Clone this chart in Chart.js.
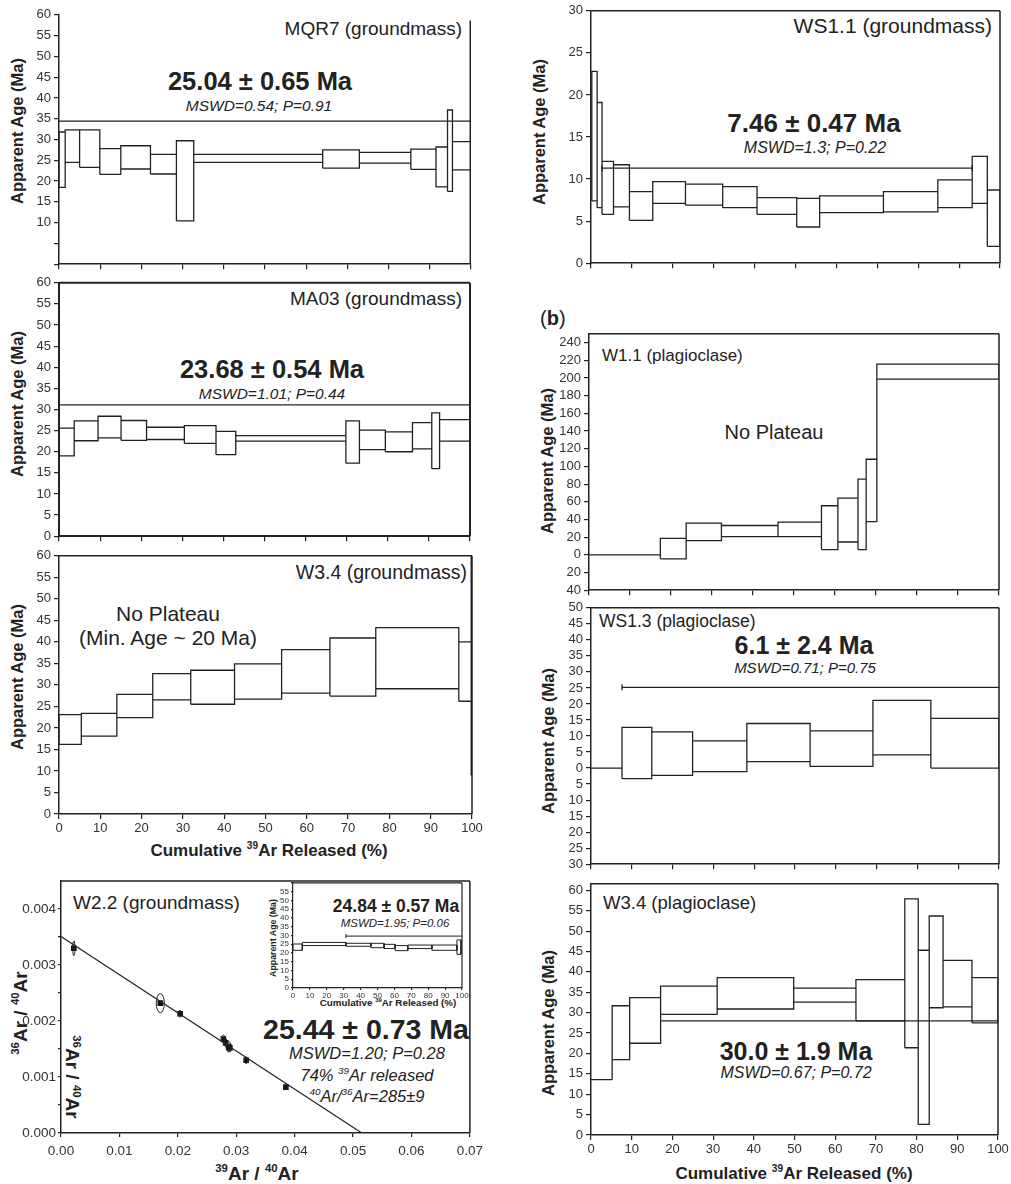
<!DOCTYPE html>
<html><head><meta charset="utf-8">
<script src="https://cdn.jsdelivr.net/npm/chart.js@4.4.0/dist/chart.umd.min.js"></script>
<style>
html,body{margin:0;padding:0;background:#fff;}
body{width:1011px;height:1184px;position:relative;overflow:hidden;font-family:"Liberation Sans",Arial,sans-serif;color:#222;}
canvas{position:absolute;}
.t{position:absolute;white-space:nowrap;line-height:1;}
.c{transform:translate(-50%,-50%);}
.l{transform:translate(0,-50%);}
.r{transform:translate(-100%,-50%);}
.rot{transform:translate(-50%,-50%) rotate(-90deg);}
.rot2{transform:translate(-50%,-50%) rotate(90deg);}
.b{font-weight:bold;}
.i{font-style:italic;}
.yt{font-size:16.5px;}
sup{font-size:0.6em;vertical-align:0.65em;line-height:0;}
</style></head><body>
<!-- left column -->
<div class="t rot b yt" style="left:17px;top:131px">Apparent Age (Ma)</div>
<div class="t rot b yt" style="left:17px;top:404px">Apparent Age (Ma)</div>
<div class="t rot b yt" style="left:17px;top:677px">Apparent Age (Ma)</div>
<div class="t r" style="left:462px;top:28px;font-size:19px">MQR7 (groundmass)</div>
<div class="t c b" style="left:260px;top:82px;font-size:25.5px">25.04 ± 0.65 Ma</div>
<div class="t c i" style="left:259px;top:106px;font-size:15.5px">MSWD=0.54; P=0.91</div>
<div class="t r" style="left:462px;top:298px;font-size:19px">MA03 (groundmass)</div>
<div class="t c b" style="left:272px;top:370px;font-size:25.5px">23.68 ± 0.54 Ma</div>
<div class="t c i" style="left:272px;top:394px;font-size:15.5px">MSWD=1.01; P=0.44</div>
<div class="t r" style="left:467px;top:573px;font-size:19.5px">W3.4 (groundmass)</div>
<div class="t c" style="left:168px;top:613px;font-size:21px">No Plateau</div>
<div class="t c" style="left:168px;top:637px;font-size:21px">(Min. Age ~ 20 Ma)</div>
<div class="t c b" style="left:269px;top:850px;font-size:17px">Cumulative <sup>39</sup>Ar Released (%)</div>
<div class="t l" style="left:73px;top:902px;font-size:19px">W2.2 (groundmass)</div>
<div class="t c b" style="left:366px;top:1029px;font-size:28.5px">25.44 ± 0.73 Ma</div>
<div class="t c i" style="left:367px;top:1053px;font-size:16.5px">MSWD=1.20; P=0.28</div>
<div class="t c i" style="left:367px;top:1075px;font-size:16.5px">74% <sup>39</sup>Ar released</div>
<div class="t c i" style="left:367px;top:1096px;font-size:16.5px"><sup>40</sup>Ar/<sup>36</sup>Ar=285±9</div>
<div class="t rot b" style="left:20px;top:1013px;font-size:19px"><sup>36</sup>Ar / <sup>40</sup>Ar</div>
<div class="t rot2 b" style="left:72px;top:1077px;font-size:19px"><sup>36</sup>Ar / <sup>40</sup>Ar</div>
<div class="t c b" style="left:257px;top:1173px;font-size:19px"><sup>39</sup>Ar / <sup>40</sup>Ar</div>
<div class="t c b" style="left:396px;top:907px;font-size:17.5px">24.84 ± 0.57 Ma</div>
<div class="t c i" style="left:395px;top:924px;font-size:11.5px">MSWD=1.95; P=0.06</div>
<div class="t rot b" style="left:273px;top:938px;font-size:8.8px">Apparent Age (Ma)</div>
<div class="t c b" style="left:388px;top:1003px;font-size:9.8px">Cumulative <sup>39</sup>Ar Released (%)</div>
<!-- right column -->
<div class="t rot b yt" style="left:539px;top:132px">Apparent Age (Ma)</div>
<div class="t r" style="left:992px;top:25px;font-size:21px">WS1.1 (groundmass)</div>
<div class="t c b" style="left:814px;top:123px;font-size:26px">7.46 ± 0.47 Ma</div>
<div class="t c i" style="left:815px;top:148px;font-size:16px">MSWD=1.3; P=0.22</div>
<div class="t l" style="left:540px;top:318px;font-size:20px">(<b>b</b>)</div>
<div class="t rot b yt" style="left:547px;top:461px">Apparent Age (Ma)</div>
<div class="t l" style="left:602px;top:355px;font-size:17px">W1.1 (plagioclase)</div>
<div class="t c" style="left:774px;top:432px;font-size:20px">No Plateau</div>
<div class="t rot b yt" style="left:548px;top:741px">Apparent Age (Ma)</div>
<div class="t l" style="left:599px;top:622px;font-size:17.5px">WS1.3 (plagioclase)</div>
<div class="t c b" style="left:804px;top:645px;font-size:25px">6.1 ± 2.4 Ma</div>
<div class="t c i" style="left:805px;top:667px;font-size:15px">MSWD=0.71; P=0.75</div>
<div class="t rot b yt" style="left:548px;top:1023px">Apparent Age (Ma)</div>
<div class="t l" style="left:603px;top:903px;font-size:18.5px">W3.4 (plagioclase)</div>
<div class="t c b" style="left:796px;top:1051px;font-size:25px">30.0 ± 1.9 Ma</div>
<div class="t c i" style="left:796px;top:1073px;font-size:16px">MSWD=0.67; P=0.72</div>
<div class="t c b" style="left:794px;top:1173px;font-size:17px">Cumulative <sup>39</sup>Ar Released (%)</div>

<script>
// ---------------- DATA ----------------
// tick labels
const CUM_TICKS = [0,10,20,30,40,50,60,70,80,90,100];
const AGE_TICKS_60 = [0,5,10,15,20,25,30,35,40,45,50,55,60];
const AGE_TICKS_30 = [0,5,10,15,20,25,30];
const AGE_TICKS_W11 = [-40,-20,0,20,40,60,80,100,120,140,160,180,200,220,240];
const AGE_TICKS_WS13 = [-30,-25,-20,-15,-10,-5,0,5,10,15,20,25,30,35,40,45,50];
const ISO_X_TICKS = [0,0.01,0.02,0.03,0.04,0.05,0.06,0.07];
const ISO_Y_TICKS = [0,0.0005,0.001,0.0015,0.002,0.0025,0.003,0.0035,0.004];

// MQR7 (groundmass): step boundaries (cum. %), upper / lower 2-sigma age (Ma)
const MQR7_STEPS = [0,1.5,5.0,9.9,15.0,22.2,28.5,32.7,64.0,72.9,85.4,91.5,94.3,95.5,99.8,100];
const MQR7_HIGH  = [31.8,32.3,32.3,27.8,28.5,26.4,29.7,26.4,27.5,26.9,27.7,28.2,37.1,29.5,58.5];
const MQR7_LOW   = [18.5,24.5,23.3,21.6,22.9,21.7,10.4,24.5,23.1,24.3,22.8,18.6,17.5,22.7,0];
const MQR7_PLATEAU = [0,100,34.4];

// MA03 (groundmass)
const MA03_STEPS = [0,3.7,9.5,15.1,21.3,30.5,38.2,43.0,69.8,73.1,79.4,86.0,90.7,92.6,100];
const MA03_HIGH  = [25.6,27.3,28.4,27.4,25.8,26.2,24.8,23.8,27.3,25.1,24.7,26.9,29.2,27.6];
const MA03_LOW   = [19.0,22.6,23.3,22.7,22.9,22.0,19.3,22.5,17.3,20.5,20.0,20.7,16.0,22.5];
const MA03_PLATEAU = [0,100,31.1];

// W3.4 (groundmass)
const W34G_STEPS = [0,5.4,14.0,22.7,31.9,42.5,53.9,65.6,76.7,96.8,99.8,100];
const W34G_HIGH  = [23.1,23.4,27.8,32.6,33.4,34.9,38.2,40.9,43.3,40.0,60];
const W34G_LOW   = [16.2,18.1,22.4,26.5,25.5,26.7,28.1,27.4,29.1,26.2,9.0];

// W2.2 (groundmass) isochron
const ISO_X  = [0.0022,0.0170,0.0204,0.0278,0.0282,0.0287,0.0289,0.0317,0.0385];
const ISO_Y  = [0.00330,0.00232,0.00213,0.00168,0.00161,0.00154,0.00152,0.00130,0.00082];
const ISO_SX = [0.0002,0.0007,0.0003,0.0003,0.0003,0.0004,0.0003,0.0003,0.0003];
const ISO_SY = [0.00013,0.00017,0.00006,0.00007,0.00007,0.00009,0.00007,0.00006,0.00004];
const ISO_Y_INTERCEPT = 0.00351;
const ISO_X_INTERCEPT = 0.0515;

// W2.2 inset spectrum
const W22_STEPS = [0,5.5,31.3,46.1,53.9,60.4,67.9,82.2,97.0,99.4];
const W22_HIGH  = [25.1,26.0,25.5,25.5,24.9,24.2,24.5,24.5,27.4];
const W22_LOW   = [21.5,24.2,23.8,23.0,22.5,21.3,22.5,21.5,19.2];
const W22_PLATEAU = [31.3,100,29.6];

// WS1.1 (groundmass)
const WS11_STEPS = [0.2,1.5,2.7,5.5,9.4,15.1,23.1,32.2,40.6,50.3,55.9,71.5,84.8,93.2,96.9,100];
const WS11_HIGH  = [22.8,19.1,12.1,11.7,8.5,9.7,9.4,9.1,7.8,7.7,8.0,8.5,9.9,12.7,8.7];
const WS11_LOW   = [7.4,6.6,5.8,6.7,5.1,7.1,6.9,6.6,5.8,4.3,6.0,6.1,6.6,7.1,2.0];
const WS11_PLATEAU = [2.7,93.2,11.3];

// W1.1 (plagioclase)
const W11_STEPS = [0,17.4,23.7,32.3,46.1,56.7,60.7,65.6,67.6,70.2,100];
const W11_HIGH  = [0,18.6,35.8,33.2,36.9,55.5,64.1,85.7,108.1,215.8];
const W11_LOW   = [0,-4.5,16.0,20.5,20.5,6.0,14.5,6.0,37.6,198.7];

// WS1.3 (plagioclase)
const WS13_STEPS = [0,7.6,14.9,24.9,38.2,53.7,69.1,83.3,100];
const WS13_HIGH  = [0,12.7,11.3,8.5,13.9,11.6,21.1,15.5];
const WS13_LOW   = [0,-3.3,-2.3,-1.1,2.0,0.5,4.1,0];
const WS13_PLATEAU = [7.6,100,25.2];

// W3.4 (plagioclase)
const W34P_STEPS = [0,5.2,9.5,17.1,31.0,49.8,65.1,77.1,80.4,83.1,86.5,93.6,100];
const W34P_HIGH  = [13.6,31.7,33.7,36.5,38.6,36.0,38.1,57.9,45.3,53.7,42.8,38.6];
const W34P_LOW   = [13.6,18.5,22.5,29.6,30.9,32.6,28.0,21.4,2.6,31.2,31.4,27.5];
const W34P_PLATEAU = [17.1,100,28.0];

// ---------------- DRAWING ----------------
const FONT = "'Liberation Sans', Arial, sans-serif";
const INK = '#222';
const LBL = '#333';

const framePlugin = {
  id: 'frame',
  afterDraw(chart, args, o) {
    if (!o || !o.sides) return;
    const {ctx, chartArea: a} = chart;
    ctx.save();
    ctx.strokeStyle = o.color || INK;
    ctx.lineWidth = o.width || 1.5;
    ctx.beginPath();
    if (o.sides.includes('t')) { ctx.moveTo(a.left, a.top); ctx.lineTo(a.right, a.top); }
    if (o.sides.includes('r')) { ctx.moveTo(a.right, a.top); ctx.lineTo(a.right, a.bottom); }
    ctx.stroke();
    ctx.restore();
  }
};
const ellipsePlugin = {
  id: 'errEllipse',
  afterDatasetsDraw(chart, args, o) {
    if (!o || !o.sx) return;
    const {ctx} = chart;
    const xs = chart.scales.x, ys = chart.scales.y;
    const ds = chart.data.datasets[o.datasetIndex].data;
    ctx.save();
    ctx.strokeStyle = INK; ctx.lineWidth = 1;
    ds.forEach((p, i) => {
      const px = xs.getPixelForValue(p.x), py = ys.getPixelForValue(p.y);
      const rx = Math.abs(xs.getPixelForValue(p.x + o.sx[i]) - px);
      const ry = Math.abs(ys.getPixelForValue(p.y + o.sy[i]) - py);
      ctx.beginPath(); ctx.ellipse(px, py, rx, ry, 0, 0, Math.PI * 2); ctx.stroke();
    });
    ctx.restore();
  }
};
Chart.register(framePlugin, ellipsePlugin);

function place(plot, yw, xh, pt, pr) {
  const L = plot.l - yw, T = plot.t - pt, W = plot.r + pr - L, H = plot.b + xh - T;
  const c = document.createElement('canvas');
  c.width = W; c.height = H;
  c.style.left = L + 'px'; c.style.top = T + 'px';
  c.style.width = W + 'px'; c.style.height = H + 'px';
  document.body.appendChild(c);
  return c;
}
const ticksAt = arr => s => { s.ticks = arr.map(v => ({value: v})); };

function boxData(steps, hi, lo) {
  const pts = [];
  for (let i = 0; i < hi.length; i++) {
    const x0 = steps[i], x1 = steps[i + 1];
    pts.push({x: x0, y: lo[i]}, {x: x0, y: hi[i]}, {x: x1, y: hi[i]}, {x: x1, y: lo[i]}, {x: x0, y: lo[i]}, {x: x1, y: null});
  }
  return pts;
}
function connectorData(steps, hi, lo) {
  const pts = [];
  for (let i = 0; i < hi.length - 1; i++) {
    const top = Math.min(hi[i], hi[i + 1]), bot = Math.max(lo[i], lo[i + 1]);
    if (bot > top) pts.push({x: steps[i + 1], y: top}, {x: steps[i + 1], y: bot}, {x: steps[i + 1], y: null});
  }
  return pts;
}

function spectrum(plot, cfg) {
  const yw = cfg.yw || 45, xh = cfg.xh || 8, fs = cfg.fs || 13;
  const canvas = place(plot, yw, xh, cfg.pt || 10, 14);
  const lw = cfg.lw || 1.3;
  const line = {showLine: true, pointRadius: 0, fill: false, spanGaps: false, tension: 0,
    borderColor: INK, borderWidth: lw, borderJoinStyle: 'miter'};
  const datasets = [
    Object.assign({data: boxData(cfg.steps, cfg.hi, cfg.lo)}, line),
    Object.assign({data: connectorData(cfg.steps, cfg.hi, cfg.lo)}, line)
  ];
  if (cfg.plateau) {
    const p = cfg.plateau;
    datasets.push(Object.assign({}, line, {
      data: [{x: p[0], y: p[2]}, {x: p[1], y: p[2]}],
      pointStyle: 'line', pointRotation: 90, pointRadius: cfg.caps || [0, 0],
      pointBorderColor: INK, pointBorderWidth: lw
    }));
  }
  const tickFont = {family: FONT, size: fs};
  const tl = cfg.tl || 5;
  new Chart(canvas, {
    type: 'scatter',
    data: {datasets},
    options: {
      responsive: false, animation: false, devicePixelRatio: 1, events: [],
      layout: {padding: {top: cfg.pt || 10, right: 14, left: 0, bottom: 0}},
      plugins: {legend: {display: false}, tooltip: {enabled: false},
        frame: {sides: cfg.frame || '', width: cfg.frameW || 1.5}},
      scales: {
        x: {type: 'linear', min: 0, max: 100, afterBuildTicks: ticksAt(CUM_TICKS),
          afterFit: s => { s.height = xh; },
          ticks: {display: !!cfg.xLabels, font: tickFont, color: LBL, padding: cfg.xpad || 2, maxRotation: 0, autoSkip: false},
          grid: {drawOnChartArea: false, tickLength: tl, color: INK, lineWidth: 1.2},
          border: {display: true, color: INK, width: cfg.frameW || 1.5}},
        y: {type: 'linear', min: cfg.yMin, max: cfg.yMax, afterBuildTicks: ticksAt(cfg.yTicks),
          afterFit: s => { s.width = yw; },
          ticks: {font: tickFont, color: LBL, padding: cfg.ypad || 3, autoSkip: false,
            callback: cfg.yLabel || (v => v)},
          grid: {drawOnChartArea: false, tickLength: tl, color: INK, lineWidth: 1.2},
          border: {display: true, color: INK, width: cfg.frameW || 1.5}}
      }
    }
  });
}

// Left column
spectrum({l: 59, t: 14, r: 471, b: 267}, {steps: MQR7_STEPS, hi: MQR7_HIGH, lo: MQR7_LOW,
  plateau: MQR7_PLATEAU, caps: [0, 3], yMin: 0, yMax: 60, yTicks: AGE_TICKS_60,
  yLabel: v => (v < 10 ? '' : v)});
spectrum({l: 59, t: 282, r: 470, b: 539}, {steps: MA03_STEPS, hi: MA03_HIGH, lo: MA03_LOW,
  plateau: MA03_PLATEAU, yMin: 0, yMax: 60, yTicks: AGE_TICKS_60, frame: 'tr', frameW: 2});
spectrum({l: 59, t: 555, r: 472, b: 814}, {steps: W34G_STEPS, hi: W34G_HIGH, lo: W34G_LOW,
  yMin: 0, yMax: 60, yTicks: AGE_TICKS_60, frame: 'tr', xLabels: true, xh: 22});

// Isochron
(function () {
  const plot = {l: 61, t: 881, r: 473, b: 1133};
  const xh = 26, yw = 50;
  const canvas = place(plot, yw, xh, 10, 16);
  const tickFont = {family: FONT, size: 13.5};
  new Chart(canvas, {
    type: 'scatter',
    data: {datasets: [
      {data: [{x: 0, y: ISO_Y_INTERCEPT}, {x: ISO_X_INTERCEPT, y: 0}], showLine: true, pointRadius: 0,
        borderColor: INK, borderWidth: 1.2, fill: false},
      {data: ISO_X.map((x, i) => ({x, y: ISO_Y[i]})), showLine: false, pointStyle: 'rect',
        pointRadius: 4, backgroundColor: '#111', borderColor: '#111', borderWidth: 0}
    ]},
    options: {
      responsive: false, animation: false, devicePixelRatio: 1, events: [],
      layout: {padding: {top: 10, right: 16, left: 0, bottom: 0}},
      plugins: {legend: {display: false}, tooltip: {enabled: false},
        frame: {sides: 'tr', width: 1.5},
        errEllipse: {sx: ISO_SX, sy: ISO_SY, datasetIndex: 1}},
      scales: {
        x: {type: 'linear', min: 0, max: 0.07, afterBuildTicks: ticksAt(ISO_X_TICKS),
          afterFit: s => { s.height = xh; },
          ticks: {font: tickFont, color: LBL, padding: 6, maxRotation: 0, autoSkip: false,
            callback: v => v.toFixed(2)},
          grid: {drawOnChartArea: false, tickLength: 4, color: INK, lineWidth: 1.2},
          border: {display: true, color: INK, width: 1.5}},
        y: {type: 'linear', min: 0, max: 0.0045, afterBuildTicks: ticksAt(ISO_Y_TICKS),
          afterFit: s => { s.width = yw; },
          ticks: {font: tickFont, color: LBL, padding: 2, autoSkip: false,
            callback: v => (Math.round(v / 0.0005) % 2 === 0 ? v.toFixed(3) : '')},
          grid: {drawOnChartArea: false, tickLength: 3, color: INK, lineWidth: 1.2},
          border: {display: true, color: INK, width: 1.5}}
      }
    }
  });
})();

// Inset spectrum of W2.2
spectrum({l: 293, t: 882, r: 462, b: 988}, {steps: W22_STEPS, hi: W22_HIGH, lo: W22_LOW,
  plateau: W22_PLATEAU, caps: [2, 0], yMin: 0, yMax: 60, yTicks: AGE_TICKS_60,
  yLabel: v => (v === 60 ? '' : v), frame: 'tr', frameW: 1.2, xLabels: true,
  yw: 18, xh: 12, fs: 8, tl: 2, xpad: 1, ypad: 2, lw: 1, pt: 6});

// Right column
spectrum({l: 591, t: 5, r: 1000, b: 266}, {steps: WS11_STEPS, hi: WS11_HIGH, lo: WS11_LOW,
  plateau: WS11_PLATEAU, caps: [3, 3], yMin: 0, yMax: 30, yTicks: AGE_TICKS_30, frame: 'tr', pt: 5});
spectrum({l: 589, t: 333, r: 999, b: 593}, {steps: W11_STEPS, hi: W11_HIGH, lo: W11_LOW,
  yMin: -40, yMax: 250, yTicks: AGE_TICKS_W11, yLabel: v => Math.abs(v), frame: 'tr'});
spectrum({l: 591, t: 607, r: 999, b: 867}, {steps: WS13_STEPS, hi: WS13_HIGH, lo: WS13_LOW,
  plateau: WS13_PLATEAU, caps: [3, 0], yMin: -30, yMax: 50, yTicks: AGE_TICKS_WS13,
  yLabel: v => Math.abs(v), frame: 'tr'});
spectrum({l: 591, t: 883, r: 998, b: 1135}, {steps: W34P_STEPS, hi: W34P_HIGH, lo: W34P_LOW,
  plateau: W34P_PLATEAU, yMin: 0, yMax: 61.6, yTicks: AGE_TICKS_60, frame: 'tr',
  xLabels: true, xh: 22});
</script>
</body></html>
